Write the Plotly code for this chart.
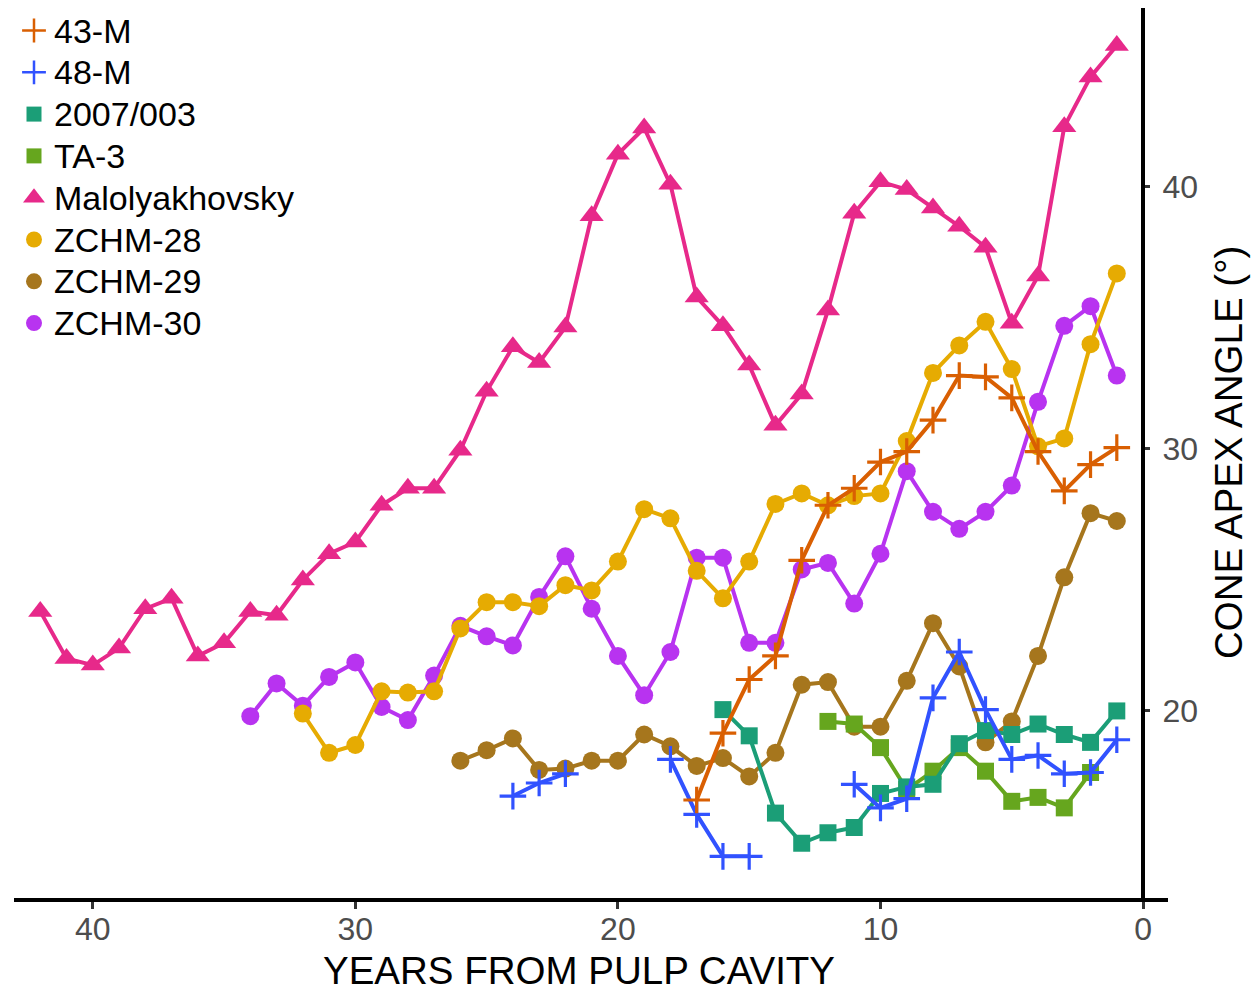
import plotly.graph_objects as go

# ---- data: cone apex angle (degrees) by years from pulp cavity ----
series_names = ["43-M", "48-M", "2007/003", "TA-3", "Malolyakhovsky",
                "ZCHM-28", "ZCHM-29", "ZCHM-30"]

years_43m = list(range(17, 0, -1))
angle_43m = [16.6, 19.15, 21.2, 22.1, 25.75, 27.85, 28.5, 29.5, 29.9, 31.1,
             32.8, 32.75, 31.95, 29.9, 28.4, 29.4, 30.05]

years_48m = list(range(24, 0, -1))
angle_48m = [16.75, 17.25, 17.6, None, None, None, 18.15, 16.05, 14.45, 14.45,
             None, None, None, 17.2, 16.3, 16.65, 20.5, 22.25, 20.05, 18.15,
             18.3, 17.6, 17.65, 18.9]

years_2007 = list(range(16, 0, -1))
angle_2007 = [20.05, 19.05, 16.1, 14.95, 15.35, 15.55, 16.85, 17.1, 17.2,
              18.75, 19.25, 19.1, 19.5, 19.1, 18.8, 20.0]

years_ta3 = list(range(12, 1, -1))
angle_ta3 = [19.6, 19.5, 18.6, 17.0, 17.7, 18.6, 17.7, 16.55, 16.7, 16.3, 17.65]

years_malo = list(range(42, 0, -1))
angle_malo = [23.8, 22.0, 21.75, 22.4, 23.9, 24.3, 22.1, 22.6, 23.8, 23.65,
              25.0, 26.0, 26.45, 27.85, 28.5, 28.5, 29.95, 32.2, 33.9, 33.3,
              34.65, 38.9, 41.25, 42.25, 40.1, 35.8, 34.7, 33.2, 30.9, 32.1,
              35.3, 39.0, 40.2, 39.9, 39.2, 38.5, 37.7, 34.8, 36.6, 42.3,
              44.2, 45.4]

years_z28 = list(range(32, 0, -1))
angle_z28 = [19.9, 18.4, 18.7, 20.75, 20.7, 20.75, 23.15, 24.15, 24.15, 24.0,
             24.8, 24.6, 25.7, 27.7, 27.35, 25.35, 24.3, 25.7, 27.9, 28.3,
             27.85, 28.2, 28.3, 30.3, 32.9, 33.95, 34.85, 33.05, 30.1, 30.4,
             34.0, 36.7]

years_z29 = list(range(26, 0, -1))
angle_z29 = [18.1, 18.5, 18.95, 17.75, 17.8, 18.1, 18.1, 19.1, 18.65, 17.9,
             18.2, 17.5, 18.4, 21.0, 21.1, 19.4, 19.4, 21.15, 23.35, 21.7,
             18.8, 19.6, 22.1, 25.1, 27.55, 27.25]

years_z30 = list(range(34, 0, -1))
angle_z30 = [19.8, 21.05, 20.2, 21.3, 21.85, 20.15, 19.65, 21.35, 23.25, 22.85,
             22.5, 24.35, 25.9, 23.9, 22.1, 20.6, 22.25, 25.85, 25.85, 22.6,
             22.6, 25.4, 25.65, 24.1, 26.0, 29.15, 27.6, 26.95, 27.6, 28.6,
             31.8, 34.7, 35.45, 32.8]

x_ticks = [0, 10, 20, 30, 40]
y_ticks = [20, 30, 40]

# ---- styling ----
FONT = "Arial, Liberation Sans, sans-serif"
style = {
    "43-M":           dict(color="#D95F02", symbol="cross-thin", size=19, key=17),
    "48-M":           dict(color="#3152FF", symbol="cross-thin", size=19, key=17),
    "2007/003":       dict(color="#1B9E77", symbol="square", size=17, key=15),
    "TA-3":           dict(color="#66A61E", symbol="square", size=17, key=15),
    "Malolyakhovsky": dict(color="#E7298A", symbol="triangle-up", size=21, key=19),
    "ZCHM-28":        dict(color="#E6AB02", symbol="circle", size=18, key=16),
    "ZCHM-29":        dict(color="#A6761D", symbol="circle", size=18, key=16),
    "ZCHM-30":        dict(color="#B833F0", symbol="circle", size=18, key=16),
}
data = {
    "43-M": (years_43m, angle_43m),
    "48-M": (years_48m, angle_48m),
    "2007/003": (years_2007, angle_2007),
    "TA-3": (years_ta3, angle_ta3),
    "Malolyakhovsky": (years_malo, angle_malo),
    "ZCHM-28": (years_z28, angle_z28),
    "ZCHM-29": (years_z29, angle_z29),
    "ZCHM-30": (years_z30, angle_z30),
}


def marker_for(name, size, stroke=3.2):
    s = style[name]
    m = dict(symbol=s["symbol"], size=size, color=s["color"])
    if s["symbol"].startswith("cross-thin"):
        m["line"] = dict(color=s["color"], width=stroke)
    else:
        m["line"] = dict(width=0)
    return m


fig = go.Figure()

# later series in the list sit underneath the earlier ones
for name in reversed(series_names):
    xs, ys = data[name]
    fig.add_trace(go.Scatter(
        x=xs, y=ys, mode="lines+markers", name=name,
        line=dict(color=style[name]["color"], width=4),
        marker=marker_for(name, style[name]["size"]),
        connectgaps=False, showlegend=False,
    ))

# ---- key in the top-left corner (pixel-like overlay axes) ----
PLOT_W, PLOT_H = 1154, 890
key_x_marker = 20
key_x_text = 38
key_y0, key_dy = 22.5, 41.8
for i, name in enumerate(series_names):
    fig.add_trace(go.Scatter(
        x=[key_x_marker], y=[key_y0 + i * key_dy], mode="markers",
        marker=marker_for(name, style[name]["key"], stroke=2.5),
        xaxis="x2", yaxis="y2", showlegend=False, hoverinfo="skip",
    ))
    fig.add_annotation(
        x=key_x_text, y=key_y0 + i * key_dy, xref="x2", yref="y2",
        text=name, showarrow=False, xanchor="left", yanchor="middle",
        font=dict(family=FONT, size=34, color="black"),
    )

# axis titles
fig.add_annotation(
    x=(579 - 14) / PLOT_W, y=-0.081, xref="paper", yref="paper",
    text="YEARS FROM PULP CAVITY", showarrow=False,
    xanchor="center", yanchor="middle",
    font=dict(family=FONT, size=38.5, color="black"),
)
fig.add_annotation(
    x=(1228 - 14) / PLOT_W, y=0.50, xref="paper", yref="paper",
    text="CONE APEX ANGLE (°)", showarrow=False, textangle=-90,
    xanchor="center", yanchor="middle",
    font=dict(family=FONT, size=38.5, color="black"),
)

fig.update_layout(
    width=1257, height=991,
    margin=dict(l=14, r=89, t=8, b=93),
    paper_bgcolor="white", plot_bgcolor="white",
    font=dict(family=FONT),
    showlegend=False,
    xaxis=dict(
        range=[43.0, -0.95], tickvals=x_ticks, showgrid=False, zeroline=False,
        showline=True, linewidth=4, linecolor="black",
        ticks="outside", ticklen=7, tickwidth=3, tickcolor="#333333",
        ticklabelstandoff=-7,
        tickfont=dict(family=FONT, size=32, color="#4d4d4d"),
    ),
    yaxis=dict(
        range=[12.86, 46.83], tickvals=y_ticks, showgrid=False, zeroline=False,
        side="right", anchor="free", position=(1143 - 14) / PLOT_W,
        showline=True, linewidth=4, linecolor="black",
        ticks="outside", ticklen=5, tickwidth=3, tickcolor="#333333",
        ticklabelstandoff=6,
        tickfont=dict(family=FONT, size=32, color="#4d4d4d"),
    ),
    xaxis2=dict(overlaying="x", anchor="y2", range=[0, PLOT_W], visible=False),
    yaxis2=dict(overlaying="y", anchor="x2", range=[PLOT_H, 0], visible=False),
)

fig.write_html("out.html")
